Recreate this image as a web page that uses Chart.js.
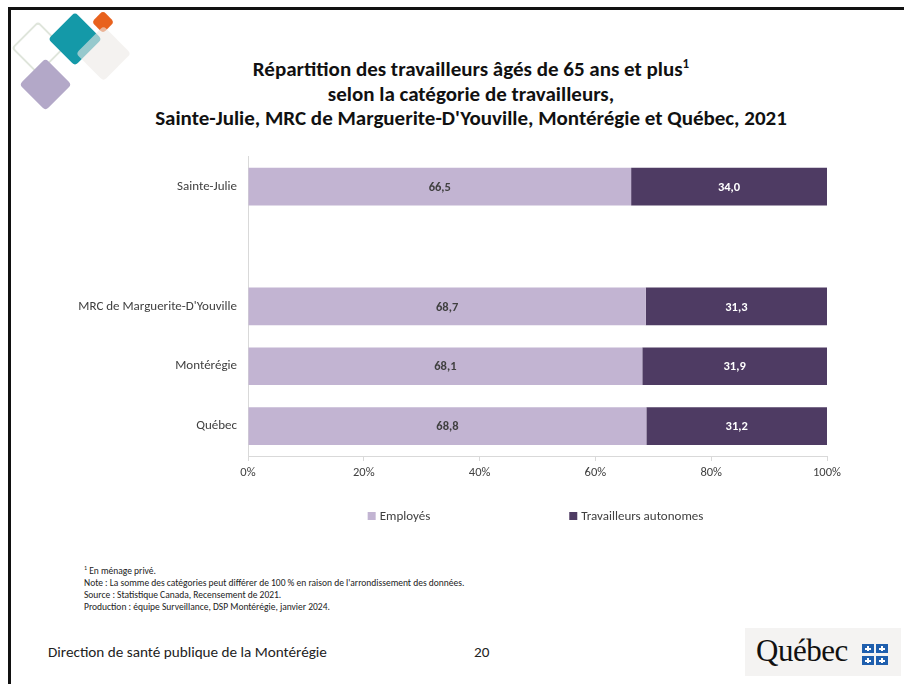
<!DOCTYPE html>
<html lang="fr">
<head>
<meta charset="utf-8">
<script src="https://cdn.jsdelivr.net/npm/chart.js@4.4.1/dist/chart.umd.min.js"></script>
<style>
  html, body { margin: 0; padding: 0; background: #fff; }
  body { width: 904px; height: 684px; position: relative; overflow: hidden; font-family: Carlito, Lato, "Open Sans", sans-serif; }
  .border-top { position: absolute; left: 8px; top: 7px; width: 896px; height: 3px; background: #111; }
  .border-left { position: absolute; left: 8px; top: 7px; width: 3px; height: 677px; background: #111; }
  .dia { position: absolute; transform: rotate(45deg); border-radius: 4px; }
  #title { position: absolute; left: 0; width: 942px; top: 57px; text-align: center; font-weight: bold; font-size: 21px; line-height: 24.5px; color: #111; }
  #title sup { font-size: 13px; line-height: 0; vertical-align: 8px; }
  #chartWrap { position: absolute; left: 60px; top: 138px; width: 800px; height: 402px; }
  #notes { position: absolute; left: 84px; top: 562px; font-size: 9.5px; line-height: 12px; color: #222; }
  #footer { position: absolute; left: 48px; top: 643px; font-size: 15.2px; color: #222; }
  #page { position: absolute; left: 474px; top: 643px; font-size: 15.2px; color: #222; }
  #qclogo { position: absolute; left: 745px; top: 628px; width: 156px; height: 48px; background: #f4f3f2; }
  #qclogo .txt { position: absolute; left: 11px; top: 5px; font-family: "Liberation Serif", "DejaVu Serif", serif; font-size: 31px; color: #111; letter-spacing: -0.5px; }
  .flag { position: absolute; width: 12px; height: 9px; background: #1f5fae; }
  .flag::after { content: ""; position: absolute; left: 5px; top: 2px; width: 2px; height: 5px; background: #fff; }
  .flag::before { content: ""; position: absolute; left: 3px; top: 4px; width: 6px; height: 2px; background: #fff; }
</style>
</head>
<body>
<div class="border-top"></div>
<div class="border-left"></div>

<div class="dia" style="left:19px;top:29px;width:38px;height:38px;border:2px solid #dfe5db;box-sizing:border-box;"></div>
<div class="dia" style="left:56px;top:20px;width:38px;height:38px;background:#1499a8;"></div>
<div class="dia" style="left:95px;top:14px;width:16px;height:16px;background:#e8621e;"></div>
<div class="dia" style="left:84px;top:34px;width:39px;height:39px;background:rgba(236,233,230,0.6);"></div>
<div class="dia" style="left:27px;top:66px;width:37px;height:37px;background:#b3a8c8;"></div>

<div id="title">Répartition des travailleurs âgés de 65 ans et plus<sup>1</sup><br>selon la catégorie de travailleurs,<br>Sainte-Julie, MRC de Marguerite-D'Youville, Montérégie et Québec, 2021</div>

<div id="chartWrap"><canvas id="c" width="800" height="402"></canvas></div>

<div id="notes"><sup style="font-size:6px">1</sup> En ménage privé.<br>Note : La somme des catégories peut différer de 100 % en raison de l'arrondissement des données.<br>Source : Statistique Canada, Recensement de 2021.<br>Production : équipe Surveillance, DSP Montérégie, janvier 2024.</div>

<div id="footer">Direction de santé publique de la Montérégie</div>
<div id="page">20</div>
<div id="qclogo"><span class="txt">Québec</span>
  <div class="flag" style="left:117px;top:16px"></div><div class="flag" style="left:131px;top:16px"></div>
  <div class="flag" style="left:117px;top:28px"></div><div class="flag" style="left:131px;top:28px"></div>
</div>

<script>
const categories = ["Sainte-Julie", "", "MRC de Marguerite-D'Youville", "Montérégie", "Québec"];
const employes = [66.5, null, 68.7, 68.1, 68.8];
const autonomes = [34.0, null, 31.3, 31.9, 31.2];
const seriesNames = ["Employés", "Travailleurs autonomes"];
const tickLabels = ["0%", "20%", "40%", "60%", "80%", "100%"];

const FONT = "Carlito, Lato, 'Open Sans', sans-serif";
const COL_LIGHT = "#c2b4d2";
const COL_DARK = "#4e3b63";

// Excel-style 100% stacked: share of row total
function share(a, b) {
  return a.map((v, i) => (v == null ? null : v / (v + b[i]) * 100));
}
const rawSeries = [employes, autonomes];

const labelPlugin = {
  id: "barLabels",
  afterDatasetsDraw(chart) {
    const ctx = chart.ctx;
    ctx.save();
    ctx.font = "bold 12.5px " + FONT;
    ctx.textAlign = "center";
    ctx.textBaseline = "middle";
    chart.data.datasets.forEach((ds, di) => {
      const meta = chart.getDatasetMeta(di);
      meta.data.forEach((el, i) => {
        const raw = rawSeries[di][i];
        if (raw == null) return;
        ctx.fillStyle = di === 0 ? "#404040" : "#ffffff";
        ctx.fillText(raw.toFixed(1).replace(".", ","), (el.x + el.base) / 2, el.y + 1);
      });
    });
    ctx.restore();
  }
};

const legendPlugin = {
  id: "customLegend",
  afterDraw(chart) {
    const ctx = chart.ctx;
    const area = chart.chartArea;
    ctx.save();
    ctx.font = "13px " + FONT;
    ctx.textBaseline = "middle";
    const box = 8, gapText = 4, gapItems = 139;
    const widths = chart.data.datasets.map(ds => box + gapText + ctx.measureText(ds.label).width);
    const total = widths.reduce((s, w) => s + w, 0) + gapItems * (widths.length - 1);
    let x = (area.left + area.right) / 2 - total / 2 - 2;
    const y = area.bottom + 60;
    chart.data.datasets.forEach((ds, i) => {
      ctx.fillStyle = ds.backgroundColor;
      ctx.fillRect(x, y - box / 2, box, box);
      ctx.fillStyle = "#404040";
      ctx.fillText(ds.label, x + box + gapText, y + 1);
      x += widths[i] + gapItems;
    });
    ctx.restore();
  }
};

new Chart(document.getElementById("c"), {
  type: "bar",
  data: {
    labels: categories,
    datasets: [
      { label: seriesNames[0], data: share(employes, autonomes), backgroundColor: COL_LIGHT },
      { label: seriesNames[1], data: share(autonomes, employes), backgroundColor: COL_DARK }
    ]
  },
  options: {
    indexAxis: "y",
    responsive: false,
    animation: false,
    events: [],
    layout: { padding: { left: 0, right: 33, top: 6, bottom: 54 } },
    plugins: { legend: { display: false }, tooltip: { enabled: false } },
    datasets: { bar: { barPercentage: 0.63, categoryPercentage: 1 } },
    scales: {
      x: {
        stacked: true, min: 0, max: 100,
        afterFit(s) { s.height = 30; },
        afterBuildTicks(s) { s.ticks = tickLabels.map((t, i) => ({ value: i * 20 })); },
        ticks: {
          callback: (v, i) => tickLabels[i],
          font: { family: FONT, size: 12.5 }, color: "#404040", padding: 4, maxRotation: 0
        },
        grid: { drawOnChartArea: false, drawTicks: true, tickLength: 5, color: "#d9d9d9" },
        border: { display: true, color: "#d9d9d9" }
      },
      y: {
        stacked: true,
        afterFit(s) { s.width = 188; },
        ticks: { font: { family: FONT, size: 13 }, color: "#404040", padding: 11 },
        grid: { display: false, drawTicks: false },
        border: { display: true, color: "#d9d9d9" }
      }
    }
  },
  plugins: [labelPlugin, legendPlugin]
});
</script>
</body>
</html>
